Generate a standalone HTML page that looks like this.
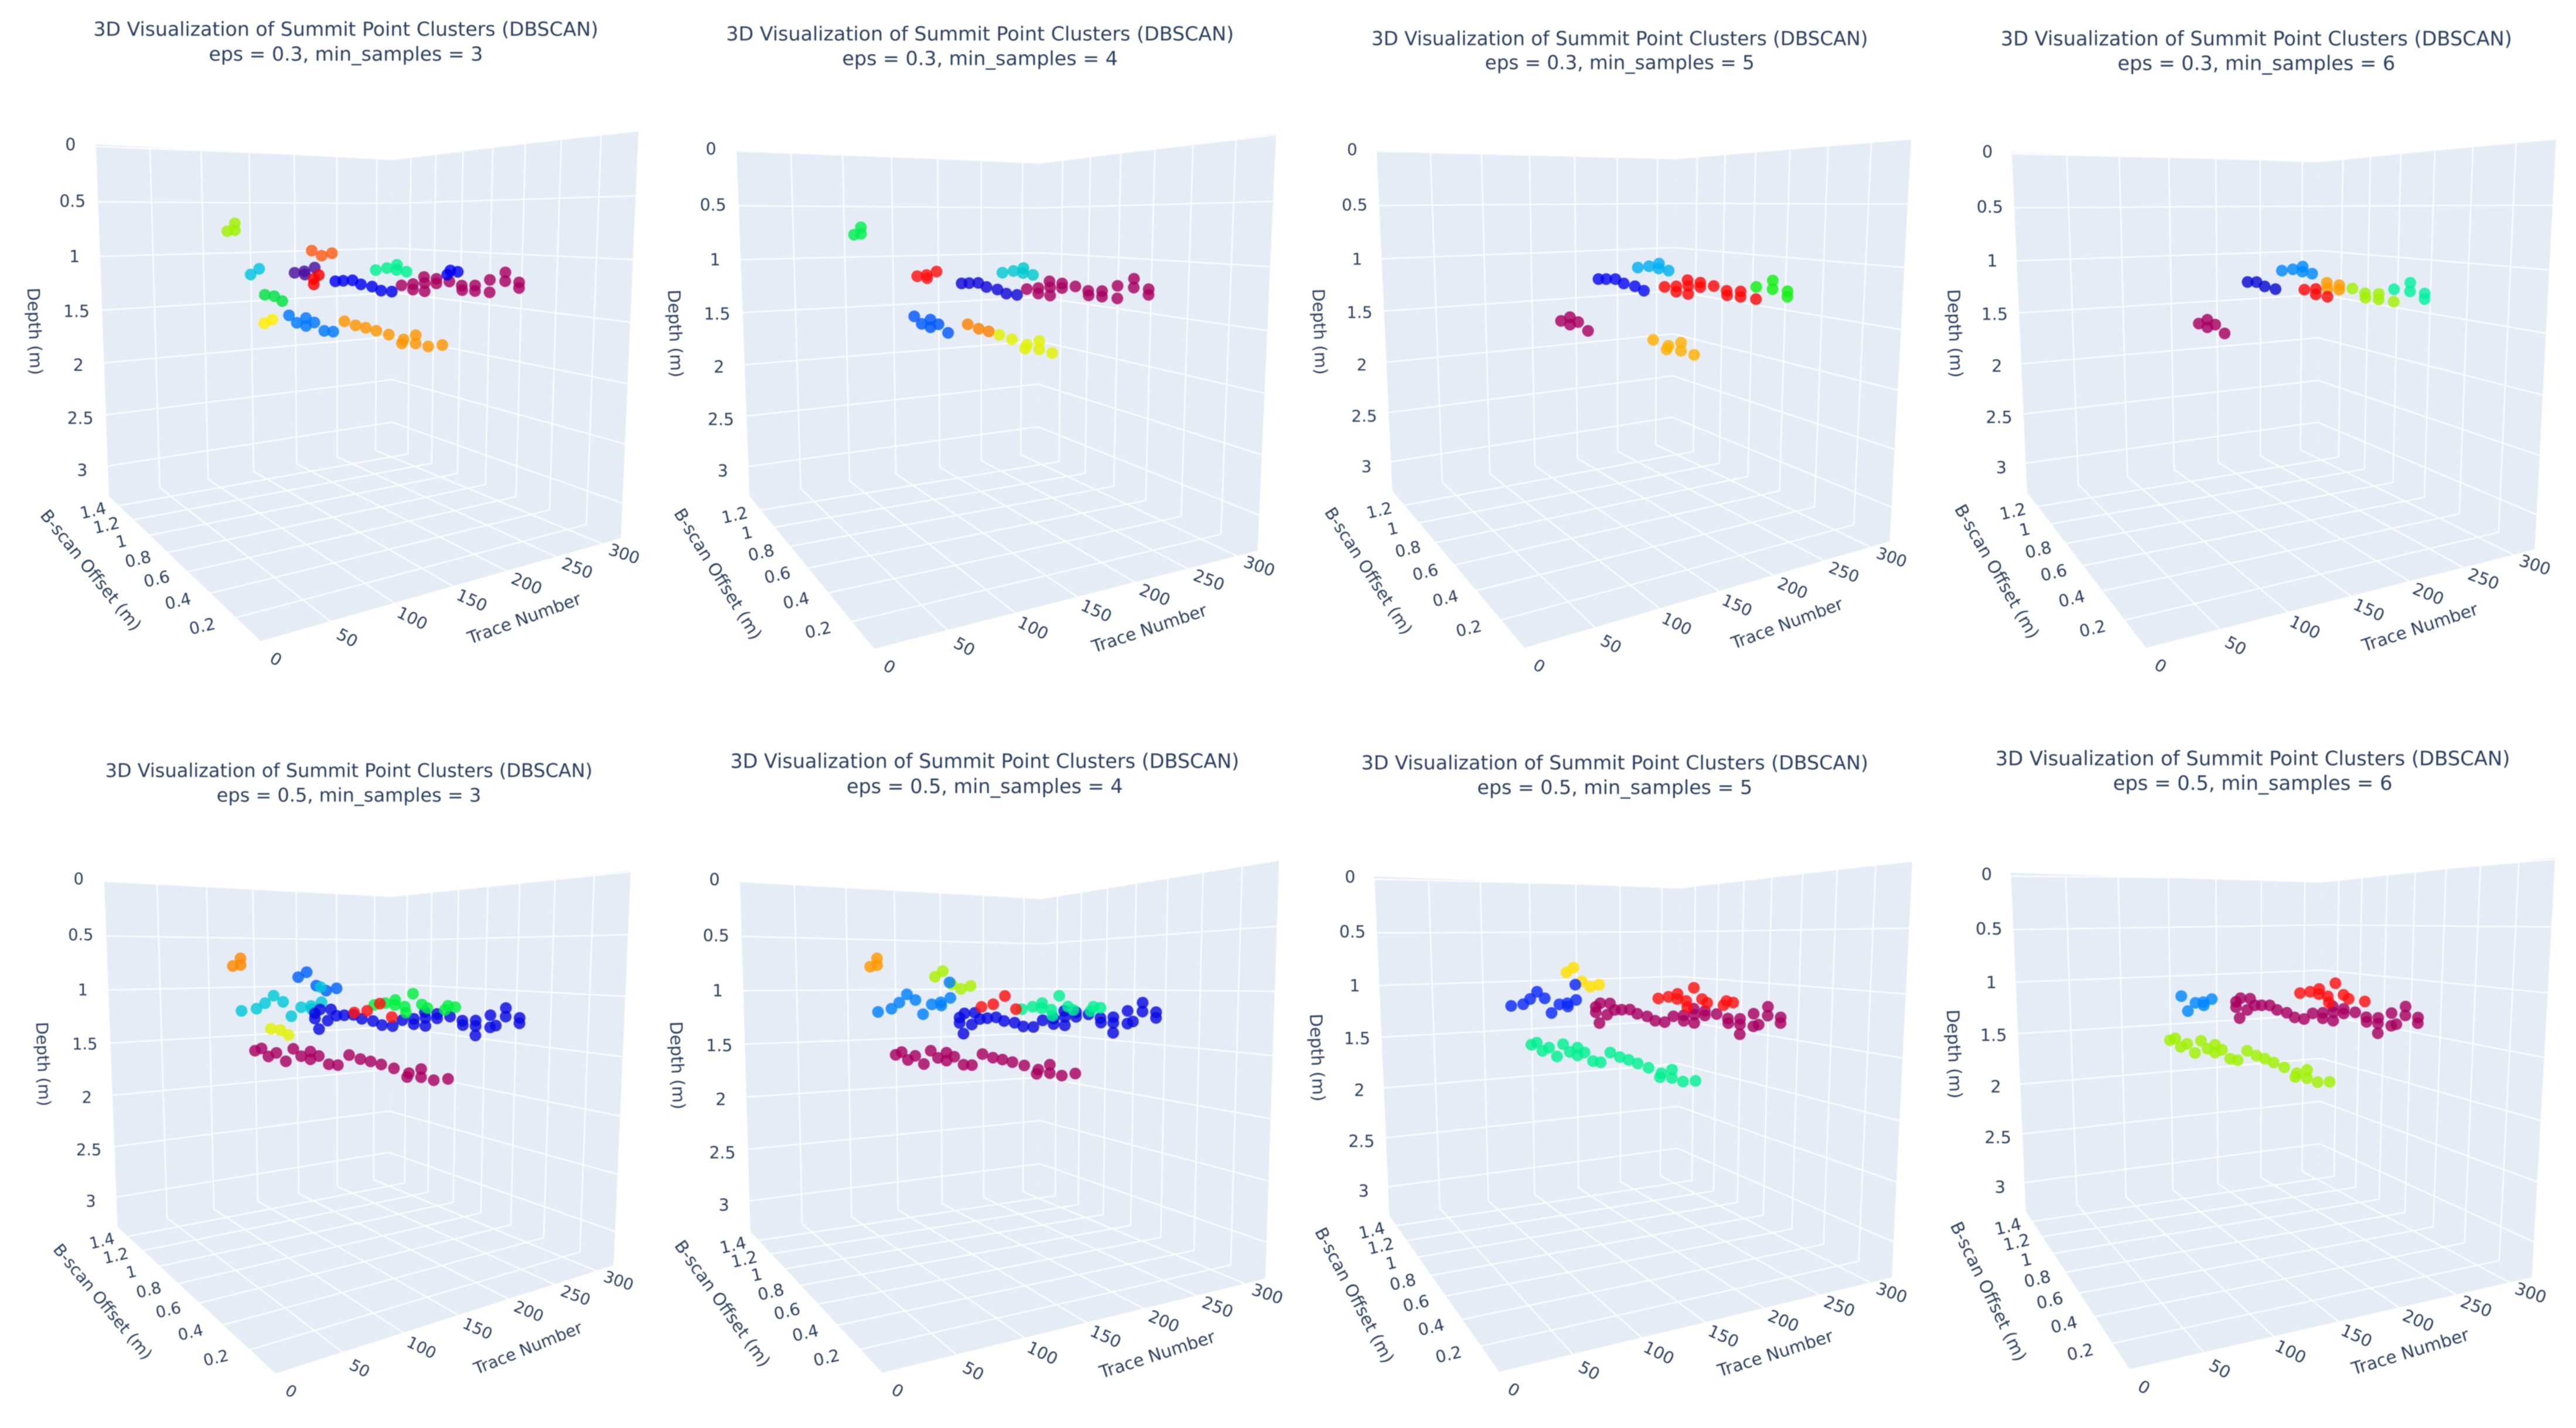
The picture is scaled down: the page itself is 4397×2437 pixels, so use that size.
<!DOCTYPE html>
<html lang="en">
<head>
<meta charset="utf-8">
<title>3D Visualization of Summit Point Clusters (DBSCAN)</title>
<style>
html,body{margin:0;padding:0;background:#fff;}
svg{display:block;filter:blur(0.8px);}
text{font-family:"DejaVu Sans","Liberation Sans",sans-serif;fill:#2a3f5f;}
</style>
</head>
<body>
<svg id="chart" xmlns="http://www.w3.org/2000/svg" width="4397" height="2437" viewBox="0 0 4397 2437"></svg>
<script>
// ---------- DATA: summit points (same points in every panel) ----------
const traces = [
108,108,108,
146,146,147,147,147.5,
109,109,109.5,109.5,109.5,109.5,
109.5,109.5,109.5,110,
110,
109.5,109.5,109.5,
148,148,148,148,148,148,148,148,148,148,148,148,
148.5,148.5,148.5,148.5,148.5,148.5,148.5,148.5,148.5,148.5,148.5,
220,220,220,220,220.5,220.5,
220.5,220.5,220.5,220.5,220.5,220.5,220.5,
220.5,220.5,220.5,221,221,221,221,221,221,221,221,221,221,221,221,221,221,221,221,221,221,
279,279,279,279,279,
279,279,279,279,
279.5,279.5,279.5,
116,116,116,116
];
const offsets = [
1.36,1.28,1.28,
1.084,1.011,0.94,0.861,0.785,
1.288,1.14,1.064,0.987,0.906,0.838,
0.76,0.684,0.68,0.611,
0.617,
1.015,0.931,0.863,
1.53,1.46,1.39,1.31,1.22,1.15,1.08,1.0,1.0,0.93,0.85,0.78,
0.7,0.62,0.55,0.48,0.4,0.31,0.32,0.24,0.24,0.17,0.095,
1.53,1.53,1.48,1.49,1.38,1.41,
1.33,1.26,1.18,1.11,1.02,0.95,0.87,
0.8,0.72,0.72,0.65,0.645,0.645,0.57,0.57,0.49,0.416,0.413,0.34,0.34,0.34,0.26,0.26,0.23,0.18,0.18,0.11,0.11,
1.404,1.307,1.224,1.227,1.147,
1.137,1.083,1.014,0.972,
0.849,0.828,0.778,
0.433,0.352,0.276,0.207
];
const depths = [
0.777,0.703,0.766,
0.875,0.826,0.944,0.982,0.956,
1.202,1.163,1.104,1.029,1.075,1.191,
1.105,1.085,1.11,1.047,
0.926,
1.328,1.326,1.357,
1.664,1.625,1.692,1.638,1.701,1.563,1.618,1.557,1.629,1.582,1.638,1.628,
1.521,1.537,1.54,1.548,1.559,1.573,1.606,1.523,1.585,1.588,1.557,
1.299,1.357,1.252,1.466,1.239,1.362,
1.298,1.284,1.269,1.299,1.308,1.336,1.333,
1.266,1.243,1.292,1.172,1.224,1.296,1.178,1.217,1.19,1.214,1.251,1.202,1.247,1.325,1.147,1.245,1.226,1.08,1.147,1.147,1.189,
1.213,1.182,1.14,1.193,1.202,
1.262,1.061,1.164,1.195,
1.198,1.156,1.163,
1.109,1.085,1.023,1.112
];
// ---------- DATA: DBSCAN cluster label of each point per panel (-1 = noise, not drawn) ----------
const labelsE03M3 = [
0,0,0,
-1,-1,1,1,1,
-1,2,2,-1,-1,-1,
3,3,3,3,
-1,
4,4,4,
-1,-1,5,5,-1,6,6,6,6,6,6,6,
7,7,7,7,7,7,7,7,7,7,7,
8,8,8,-1,-1,-1,
9,9,9,9,9,9,9,
10,10,10,10,10,10,10,10,10,10,10,10,10,-1,10,10,-1,10,10,10,10,
11,11,11,11,11,
-1,-1,-1,-1,
12,12,12,
-1,-1,-1,-1
];
const labelsE03M4 = [
0,0,0,
-1,-1,-1,-1,-1,
-1,-1,-1,-1,-1,-1,
1,1,1,1,
-1,
-1,-1,-1,
-1,-1,-1,-1,-1,4,4,4,4,4,4,-1,
5,5,5,6,6,6,6,6,6,6,-1,
-1,-1,-1,-1,-1,-1,
2,2,2,2,2,2,2,
7,7,7,7,7,7,7,7,7,7,7,7,7,-1,7,7,-1,7,7,7,7,
3,3,3,3,3,
-1,-1,-1,-1,
-1,-1,-1,
-1,-1,-1,-1
];
const labelsE03M5 = [
-1,-1,-1,
-1,-1,-1,-1,-1,
-1,-1,-1,-1,-1,-1,
-1,-1,-1,-1,
-1,
-1,-1,-1,
-1,-1,-1,-1,-1,-1,2,2,2,2,2,-1,
-1,-1,-1,-1,3,3,3,3,3,3,-1,
-1,-1,-1,-1,-1,-1,
0,0,0,0,0,0,-1,
4,4,4,4,4,4,4,4,4,4,4,4,4,-1,5,4,-1,5,5,5,5,
1,1,1,1,1,
-1,-1,-1,-1,
-1,-1,-1,
-1,-1,-1,-1
];
const labelsE03M6 = [
-1,-1,-1,
-1,-1,-1,-1,-1,
-1,-1,-1,-1,-1,-1,
-1,-1,-1,-1,
-1,
-1,-1,-1,
-1,-1,-1,-1,-1,-1,2,2,2,2,2,-1,
-1,-1,-1,-1,-1,-1,-1,-1,-1,-1,-1,
-1,-1,-1,-1,-1,-1,
-1,0,0,0,0,-1,-1,
3,3,3,4,4,3,4,4,5,5,5,5,5,-1,6,5,-1,6,6,6,6,
1,1,1,1,1,
-1,-1,-1,-1,
-1,-1,-1,
-1,-1,-1,-1
];
const labelsE05M3 = [
0,0,0,
1,1,1,1,1,
2,2,2,2,2,2,
2,2,2,2,
2,
3,3,3,
4,4,4,4,4,4,4,4,4,4,4,4,
4,4,4,4,4,4,4,4,4,4,4,
5,5,5,5,5,5,
5,5,5,5,5,5,5,
5,5,5,5,5,5,5,5,5,5,5,5,5,5,5,5,5,5,5,5,5,
6,6,6,6,6,
6,6,6,6,
6,6,6,
7,7,7,7
];
const labelsE05M4 = [
0,0,0,
1,1,1,1,1,
2,2,2,2,2,2,
2,2,2,2,
2,
-1,-1,-1,
3,3,3,3,3,3,3,3,3,3,3,3,
3,3,3,3,3,3,3,3,3,3,3,
4,4,4,4,4,4,
4,4,4,4,4,4,4,
4,4,4,4,4,4,4,4,4,4,4,4,4,4,4,4,4,4,4,4,4,
5,5,5,5,5,
5,5,5,5,
5,5,5,
6,6,6,6
];
const labelsE05M5 = [
-1,-1,-1,
0,0,0,0,0,
1,1,1,1,1,1,
1,1,1,1,
1,
-1,-1,-1,
3,3,3,3,3,3,3,3,3,3,3,3,
3,3,3,3,3,3,3,3,3,3,3,
2,2,2,2,2,2,
2,2,2,2,2,2,2,
2,2,2,2,2,2,2,2,2,2,2,2,2,2,2,2,2,2,2,2,2,
4,4,4,4,4,
4,4,4,4,
4,4,4,
-1,-1,-1,-1
];
const labelsE05M6 = [
-1,-1,-1,
-1,-1,-1,-1,-1,
-1,-1,-1,-1,0,0,
0,0,0,0,
-1,
-1,-1,-1,
2,2,2,2,2,2,2,2,2,2,2,2,
2,2,2,2,2,2,2,2,2,2,2,
1,1,1,1,1,1,
1,1,1,1,1,1,1,
1,1,1,1,1,1,1,1,1,1,1,1,1,1,1,1,1,1,1,1,1,
3,3,3,3,3,
3,3,3,3,
3,-1,-1,
-1,-1,-1,-1
];
// ---------- DATA: cluster colours per panel ----------
const colorsE03M3 = ['#a0f000','#ff5a14','#00c4e0','#4b0fa0','#00e040','#ffee00','#0078ff','#ff9500','#ff0000','#0000ee','#a80060','#00f090','#0000ee'];
const colorsE03M4 = ['#00f050','#ff1010','#1008d8','#00c8d0','#0058ff','#ff8000','#e0f000','#a80060'];
const colorsE03M5 = ['#0808f0','#00b0f0','#a80060','#ffb000','#ff0808','#10f010'];
const colorsE03M6 = ['#0808d0','#0088ff','#a80060','#ff0808','#ff9a00','#a0f000','#00f0a0'];
const colorsE05M3 = ['#ff8800','#0060ff','#00c8d8','#e0f000','#a80060','#0808e0','#00f040','#ff1010'];
const colorsE05M4 = ['#ff9900','#a8f000','#0080ff','#a80060','#0808e0','#00f090','#ff1010'];
const colorsE05M5 = ['#ffe000','#0a28ff','#a80060','#00f090','#ff1010'];
const colorsE05M6 = ['#0088ff','#a80060','#a0f000','#ff1010'];
// ---------- DATA: axis ticks ----------
const xTicks = [0,50,100,150,200,250,300];
const zTicks = [0,0.5,1,1.5,2,2.5,3];
const yTicksLong = [0.2,0.4,0.6,0.8,1,1.2,1.4];
const yTicksShort = [0.2,0.4,0.6,0.8,1,1.2];
const xRange = [0,322];
const zRange = [0,3.3];
const yRangeLong = [0.03,1.545];
const yRangeShort = [0.035,1.38];

// ---------- LAYOUT: per-panel scene geometry (measured in crop space, kx / KY px scale) ----------
const K1 = 1.3635, K2 = 1.4255, K3 = 1.429, KY = 1.3067;
const panels = [
 {id:'e03-m3',eps:'0.3',ms:3,ox:0,oy:0,k:K1,A:[222,322],B:[915,357],C:[1486,290],D:[252,1107],E:[912,998],F:[1445,1200],G:[605,1430],tc:[805,65,120],tw:862,yt:yTicksLong,yr:yRangeLong,labels:labelsE03M3,colors:colorsE03M3},
 {id:'e03-m4',eps:'0.3',ms:4,ox:1100,oy:0,k:K1,A:[213,335],B:[920,365],C:[1470,298],D:[243,1107],E:[915,1008],F:[1427,1228],G:[533,1447],tc:[781,75,130],tw:867,yt:yTicksShort,yr:yRangeShort,labels:labelsE03M4,colors:colorsE03M4},
 {id:'e03-m5',eps:'0.3',ms:5,ox:2200,oy:0,k:K2,A:[212,335],B:[938,355],C:[1514,310],D:[250,1095],E:[932,985],F:[1462,1207],G:[572,1445],tc:[805,86,140],tw:848,yt:yTicksShort,yr:yRangeShort,labels:labelsE03M5,colors:colorsE03M5},
 {id:'e03-m6',eps:'0.3',ms:6,ox:3300,oy:0,k:K3,A:[190,340],B:[940,362],C:[1519,308],D:[227,1098],E:[937,997],F:[1467,1225],G:[517,1445],tc:[788,86,141],tw:873,yt:yTicksShort,yr:yRangeShort,labels:labelsE03M6,colors:colorsE03M6},
 {id:'e05-m3',eps:'0.5',ms:3,ox:0,oy:1237,k:K1,A:[241,350],B:[910,383],C:[1468,325],D:[272,1120],E:[905,1008],F:[1428,1205],G:[640,1447],tc:[812,102,157],tw:832,yt:yTicksLong,yr:yRangeLong,labels:labelsE05M3,colors:colorsE05M3},
 {id:'e05-m4',eps:'0.5',ms:4,ox:1100,oy:1237,k:K1,A:[221,348],B:[925,388],C:[1477,302],D:[245,1130],E:[920,1036],F:[1445,1235],G:[552,1445],tc:[792,81,137],tw:869,yt:yTicksLong,yr:yRangeLong,labels:labelsE05M4,colors:colorsE05M4},
 {id:'e05-m5',eps:'0.5',ms:5,ox:2200,oy:1237,k:K2,A:[207,338],B:[950,365],C:[1517,304],D:[243,1095],E:[945,1000],F:[1467,1232],G:[510,1443],tc:[793,84,139],tw:866,yt:yTicksLong,yr:yRangeLong,labels:labelsE05M5,colors:colorsE05M5},
 {id:'e05-m6',eps:'0.5',ms:6,ox:3300,oy:1237,k:K3,A:[188,330],B:[945,352],C:[1517,296],D:[224,1085],E:[942,990],F:[1460,1232],G:[477,1437],tc:[779,75,130],tw:879,yt:yTicksLong,yr:yRangeLong,labels:labelsE05M6,colors:colorsE05M6}
];

const SVGNS = 'http://www.w3.org/2000/svg';
const root = document.getElementById('chart');
const WALL = '#e5ecf6';
const POINT_R = 10;

// Projective camera through the visible box corners (in unit-cube coordinates).
function makeCamera(p){
  const G=p.G,F=p.F,E=p.E,D=p.D,A=p.A,C=p.C,B=p.B;
  const dx1=F[0]-E[0],dx2=D[0]-E[0],sx=G[0]-F[0]+E[0]-D[0];
  const dy1=F[1]-E[1],dy2=D[1]-E[1],sy=G[1]-F[1]+E[1]-D[1];
  const det=dx1*dy2-dx2*dy1;
  const wa=(sx*dy2-dx2*sy)/det, wb=(dx1*sy-sx*dy1)/det;
  const ua=F[0]-G[0]+wa*F[0], ub=D[0]-G[0]+wb*D[0];
  const va=F[1]-G[1]+wa*F[1], vb=D[1]-G[1]+wb*D[1];
  const q1=(1+wb)*A[0]-(G[0]+ub), q2=(1+wa)*C[0]-(G[0]+ua);
  const wc=(q2-q1)/(A[0]-C[0]);
  const uc=q1+A[0]*wc;
  const vA=(1+wb+wc)*A[1]-(G[1]+vb);
  const vC=(1+wa+wc)*C[1]-(G[1]+va);
  const vB=(1+wa+wb+wc)*B[1]-(G[1]+va+vb);
  const vc=(vA+vC+vB)/3;
  return function(a,b,c){
    const w=1+wa*a+wb*b+wc*c;
    return [(G[0]+ua*a+ub*b+uc*c)/w,(G[1]+va*a+vb*b+vc*c)/w];
  };
}
function line(parent,p1,p2,name){
  const el=document.createElementNS(SVGNS,'line');
  
  
  el.setAttribute('x1',p1[0]);el.setAttribute('y1',p1[1]);
  el.setAttribute('x2',p2[0]);el.setAttribute('y2',p2[1]);
  el.setAttribute('stroke','#ffffff');
  el.setAttribute('stroke-width','2.2');
  parent.appendChild(el);
  return el;
}
function label(parent,str,x,y,size,rot,name){
  const el=document.createElementNS(SVGNS,'text');
  
  
  el.setAttribute('x',x);el.setAttribute('y',y);
  el.setAttribute('font-size',size);
  el.setAttribute('text-anchor','middle');
  el.setAttribute('dominant-baseline','central');
  if(rot){el.setAttribute('transform','rotate('+rot+' '+x+' '+y+')');}
  el.textContent=str;
  parent.appendChild(el);
  return el;
}
function wall(parent,pts,name){
  const el=document.createElementNS(SVGNS,'polygon');
  
  
  el.setAttribute('points',pts.map(q=>q[0]+','+q[1]).join(' '));
  el.setAttribute('fill',WALL);
  parent.appendChild(el);
}
function drawPanel(p){
  const g=document.createElementNS(SVGNS,'g');
  
  
  root.appendChild(g);
  const cam=makeCamera(p);
  const toPx=q=>[p.ox+q[0]/p.k,p.oy+q[1]/KY];
  // axis functions
  const ax=x=>(x-xRange[0])/(xRange[1]-xRange[0]);
  const ay=y=>(y-p.yr[0])/(p.yr[1]-p.yr[0]);
  const az=z=>1-(z-zRange[0])/(zRange[1]-zRange[0]);
  const proj=(a,b,c)=>toPx(cam(a,b,c));
  const pos=(x,y,z)=>proj(ax(x),ay(y),az(z));

  // title (measured first so all fonts scale with this panel)
  const tPos1=toPx([p.tc[0],p.tc[1]]), tPos2=toPx([p.tc[0],p.tc[2]]);
  const t1=label(g,'3D Visualization of Summit Point Clusters (DBSCAN)',tPos1[0],tPos1[1],30,0,'chart-title');
  const titleSize=30*p.tw/t1.getComputedTextLength();
  t1.setAttribute('font-size',titleSize);
  label(g,'eps = '+p.eps+', min_samples = '+p.ms,tPos2[0],tPos2[1],titleSize,0,'chart-subtitle');
  const tickSize=titleSize*0.85, axisSize=titleSize*0.88;

  // walls
  wall(g,[p.A,p.B,p.E,p.D].map(toPx),'left-wall');
  wall(g,[p.B,p.C,p.F,p.E].map(toPx),'right-wall');
  wall(g,[p.D,p.E,p.F,p.G].map(toPx),'floor');

  // grid
  xTicks.forEach(v=>{
    const a=ax(v);
    line(g,proj(a,1,1),proj(a,1,0),'x-gridline-wall');
    line(g,proj(a,0,0),proj(a,1,0),'x-gridline-floor');
  });
  p.yt.forEach(v=>{
    const b=ay(v);
    line(g,proj(1,b,1),proj(1,b,0),'y-gridline-wall');
    line(g,proj(0,b,0),proj(1,b,0),'y-gridline-floor');
  });
  zTicks.forEach(v=>{
    const c=az(v);
    line(g,proj(0,1,c),proj(1,1,c),'z-gridline-left');
    line(g,proj(1,1,c),proj(1,0,c),'z-gridline-right');
  });

  // tick labels
  xTicks.forEach(v=>{
    const a=ax(v), q=cam(a,0,0);
    const r=toPx([q[0]+37+16*a,q[1]+40-18*a]);
    label(g,String(v),r[0],r[1],tickSize,30-12*a,'x-tick-label');
  });
  p.yt.forEach(v=>{
    const b=ay(v), q=cam(0,b,0);
    const r=toPx([q[0]-80+24*b,q[1]+20-10*b]);
    label(g,String(v),r[0],r[1],tickSize,-13,'y-tick-label');
  });
  zTicks.forEach(v=>{
    const c=az(v), q=cam(0,1,c);
    const r=toPx([q[0]-58,q[1]-4+14*v/3]);
    label(g,String(v),r[0],r[1],tickSize,0,'z-tick-label');
  });

  // axis titles
  const midLeft=cam(0,1,az(1.7));
  const zt=toPx([midLeft[0]-157,midLeft[1]]);
  label(g,'Depth (m)',zt[0],zt[1],axisSize,88,'z-axis-title');
  const ymx=(p.D[0]+p.G[0])/2, ymy=(p.D[1]+p.G[1])/2;
  const dPx=toPx(p.D), gPx=toPx(p.G), fPx=toPx(p.F);
  const yAngle=Math.atan2(gPx[1]-dPx[1],gPx[0]-dPx[0])*180/Math.PI+7.5;
  const yt=toPx([ymx-217,ymy+3]);
  label(g,'B-scan Offset (m)',yt[0],yt[1],axisSize,yAngle,'y-axis-title');
  const xmx=(p.G[0]+p.F[0])/2, xmy=(p.G[1]+p.F[1])/2;
  const xAngle=Math.atan2(fPx[1]-gPx[1],fPx[0]-gPx[0])*180/Math.PI-4;
  const xt=toPx([xmx+195,xmy+64]);
  label(g,'Trace Number',xt[0],xt[1],axisSize,xAngle,'x-axis-title');

  // points
  traces.forEach((tv,i)=>{
    const lab=p.labels[i];
    if(lab===undefined||lab<0){return;}
    const s=pos(tv,offsets[i],depths[i]);
    const el=document.createElementNS(SVGNS,'circle');
    
    
    el.setAttribute('cx',s[0]);
    el.setAttribute('cy',s[1]);
    el.setAttribute('r',POINT_R);
    el.setAttribute('fill',p.colors[lab]);
    el.setAttribute('fill-opacity','0.82');
    g.appendChild(el);
  });
}
panels.forEach(drawPanel);
</script>
</body>
</html>
